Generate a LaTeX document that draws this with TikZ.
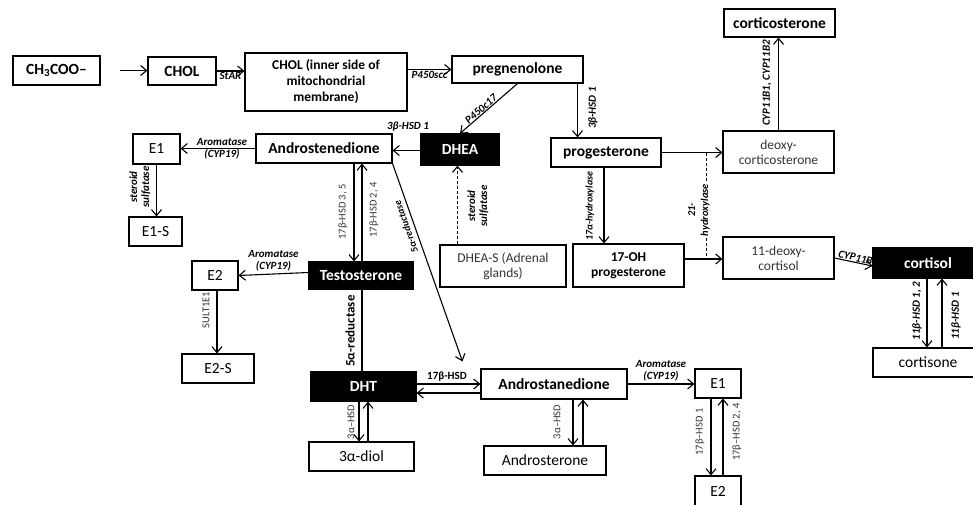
\documentclass[tikz,border=0pt]{standalone}
\usepackage{fontspec}
\setmainfont{Carlito}
\usetikzlibrary{arrows.meta,calc}
\pgfdeclarelayer{background}
\pgfsetlayers{background,main}
\begin{document}
\begin{tikzpicture}[x=1pt,y=-1pt,
  box/.style={draw, line width=1.1pt, inner sep=0pt, align=center, font=\fontsize{15.5}{17}\selectfont\bfseries},
  sz/.style 2 args={minimum width=#1pt, minimum height=#2pt},
  blk/.style={box, fill=black, text=white},
  reg/.style={box, font=\fontsize{15.5}{17}\selectfont},
  mid/.style={box, font=\fontsize{13.5}{15}\selectfont, text=black!80},
  midb/.style={box, font=\fontsize{13.5}{15}\selectfont\bfseries},
  lab/.style={font=\fontsize{11}{12}\selectfont\bfseries\itshape, inner sep=1pt, align=center},
  rlab/.style={font=\fontsize{10.5}{12}\selectfont, text=black!80, inner sep=1pt},
  arr/.style={line width=1.1pt, -{Straight Barb[length=6pt,width=10pt]}},
  ln/.style={line width=1.1pt}]
\useasboundingbox (0,0) rectangle (973,504);

% ---- nodes ----
\node[box, sz={87}{29}] (ch3) at (56.5,70.5) {CH\textsubscript{3}COO–};
\node[box, sz={68}{28}] (chol) at (182,71) {CHOL};
\node[box, sz={162}{58}, font=\fontsize{13.5}{16}\selectfont\bfseries] (cholin) at (326,82) {CHOL (inner side of\\mitochondrial\\membrane)};
\node[box, sz={131}{27}] (preg) at (517.5,69.5) {pregnenolone};
\node[box, sz={111}{28}] (cort) at (779.5,23) {corticosterone};
\node[mid, sz={111}{42}] (doc) at (778.5,152) {deoxy-\\corticosterone};
\node[box, sz={110}{29}] (prog) at (606,152.5) {progesterone};
\node[midb, sz={111}{43}] (ohp) at (628.5,265.5) {17-OH\\progesterone};
\node[mid, sz={111}{42}] (dcort) at (778.5,258) {11-deoxy-\\cortisol};
\node[blk, sz={110}{30}] (cortisol) at (928,263) {cortisol};
\node[reg, sz={110}{29}] (cortisone) at (928,362.5) {cortisone};
\node[box, sz={136}{29}] (andro) at (324,148.5) {Androstenedione};
\node[reg, sz={47}{30}] (e1a) at (156.5,149) {E1};
\node[reg, sz={53}{29}] (e1s) at (155.5,231.5) {E1-S};
\node[blk, sz={78}{31}] (dhea) at (460,149.5) {DHEA};
\node[mid, sz={126}{42}] (dheas) at (503,266) {DHEA-S (Adrenal\\glands)};
\node[blk, sz={104}{27}] (testo) at (361,275.5) {Testosterone};
\node[reg, sz={46}{29}] (e2a) at (215,275.5) {E2};
\node[reg, sz={72}{29}] (e2s) at (218,368.5) {E2-S};
\node[blk, sz={105}{29}] (dht) at (363.5,386.5) {DHT};
\node[box, sz={146}{30}] (adione) at (554,384) {Androstanedione};
\node[reg, sz={105}{29}] (diol) at (361.5,456.5) {3α-diol};
\node[reg, sz={122}{29}] (aster) at (545,460.5) {Androsterone};
\node[reg, sz={46}{29}] (e1b) at (718,383.5) {E1};
\node[reg, sz={46}{30}] (e2b) at (718,491) {E2};

% ---- top chain ----
\draw[arr, shorten <=19pt] (ch3.east) -- (ch3.east -| chol.west);
\draw[arr] (chol.east) -- (chol.east -| cholin.west)
  node[lab, below, midway] {StAR};
\draw[arr] (cholin.east |- preg.west) -- (preg.west)
  node[lab, below, midway] {P450scc};
\draw[arr] (preg.south) -- (dhea.north)
  node[lab, sloped, above, pos=0.58, inner sep=0.5pt] {P450c17};
\draw[arr] ([xshift=-6pt]preg.south east) -- ([xshift=-6pt]preg.south east |- prog.north);
\node[lab, rotate=90] at (593,108) {3β-HSD 1};

% ---- corticoid branch ----
\draw[arr] (prog.east) -- (prog.east -| doc.west);
\draw[arr] (doc.north) -- (doc.north |- cort.south);
\node[lab, rotate=90] at (767,83) {CYP11B1, CYP11B2};
\draw[arr] ([xshift=-2pt]prog.south) -- ([xshift=-2pt]prog.south |- ohp.north);
\node[lab, rotate=90, font=\fontsize{10}{12}\selectfont\bfseries\itshape] at (590,206) {17α-hydroxylase};
\draw[arr] ([yshift=6.5pt]ohp.east) -- ([yshift=6.5pt]ohp.east -| dcort.west);
\coordinate (h1) at (706,153);
\coordinate (h2) at (706,259);
\draw[ln, dashed, line width=0.9pt, dash pattern=on 3pt off 2pt] (h1) -- (h2);
\node[lab, rotate=90, fill=white, inner sep=0.5pt, font=\fontsize{10.5}{13}\selectfont\bfseries\itshape] at (699,210) {21-\\hydroxylase};
\begin{pgfonlayer}{background}
\draw[arr] (dcort.east) -- ([yshift=-3pt]cortisol.west)
  node[lab, sloped, above, pos=0.6, inner sep=0.5pt] {CYP11B1};
\end{pgfonlayer}
\draw[arr] ([xshift=-1pt]cortisol.south) -- ([xshift=-1pt]cortisol.south |- cortisone.north);
\draw[arr] ([xshift=14pt]cortisone.north) -- ([xshift=14pt]cortisone.north |- cortisol.south);
\node[lab, rotate=90] at (917,311) {11β-HSD 1, 2};
\node[lab, rotate=90] at (956,316) {11β-HSD 1};

% ---- androgen branch ----
\draw[arr] ([yshift=-1pt]dhea.west) -- ([yshift=-1pt]dhea.west -| andro.east);
\node[lab] at (408,127) {3β-HSD 1};
\draw[arr, dashed, dash pattern=on 3pt off 2pt] ([xshift=18pt]dheas.north west) -- ([xshift=18pt]dheas.north west |- dhea.south);
\node[lab, rotate=90] at (478,206) {steroid\\sulfatase};
\draw[arr] (andro.west) -- (andro.west -| e1a.east);
\node[lab] at (222,149) {Aromatase\\(CYP19)};
\draw[arr] (e1a.south) -- (e1a.south |- e1s.north);
\node[lab, rotate=90] at (140,187) {steroid\\sulfatase};
\draw[arr] ([xshift=-7pt]testo.north |- andro.south) -- ([xshift=-7pt]testo.north);
\draw[arr] ([xshift=1pt]testo.north) -- ([xshift=1pt]testo.north |- andro.south);
\node[rlab, rotate=90] at (343,212) {17β-HSD 3, 5};
\node[rlab, rotate=90] at (374,210) {17β-HSD 2, 4};
\draw[arr] (andro.south east) -- ([shift={(-18pt,7pt)}]adione.north west);
\node[lab, rotate=109.4, font=\fontsize{10}{12}\selectfont\bfseries\itshape] at (406,227) {5α-reductase};
\draw[arr] ([yshift=3pt]testo.west) -- (e2a.east)
  node[lab, above, midway, yshift=1pt] {Aromatase\\(CYP19)};
\draw[arr] ([xshift=2pt]e2a.south) -- ([xshift=2pt]e2a.south |- e2s.north);
\node[rlab, rotate=90] at (206,310) {SULT1E1};
\draw[ln] ([xshift=1pt]testo.south) -- ([xshift=1pt]testo.south |- dht.north);
\node[font=\fontsize{13}{15}\selectfont\bfseries, rotate=90, inner sep=1pt] at (350,331) {5α-reductase};
\draw[arr] ([yshift=2.5pt]dht.east) -- ([yshift=2.5pt]dht.east -| adione.west);
\draw[arr] ([yshift=-6.5pt]dht.east -| adione.west) -- ([yshift=-6.5pt]dht.east);
\node[font=\fontsize{11}{12}\selectfont\bfseries, inner sep=1pt] at (447,377) {17β-HSD};
\draw[arr] ([xshift=-4.5pt]dht.south) -- ([xshift=-4.5pt]dht.south |- diol.north);
\draw[arr] ([xshift=4.5pt]dht.south |- diol.north) -- ([xshift=4.5pt]dht.south);
\node[rlab, rotate=90] at (351,422) {3α–HSD};
\draw[arr] ([xshift=19pt]adione.south) -- ([xshift=19pt]adione.south |- aster.north);
\draw[arr] ([xshift=29pt]adione.south |- aster.north) -- ([xshift=29pt]adione.south);
\node[rlab, rotate=90] at (557,422) {3α–HSD};
\draw[arr] (adione.east) -- (adione.east -| e1b.west)
  node[lab, above, midway, yshift=1pt] {Aromatase\\(CYP19)};
\draw[arr] ([xshift=-7pt]e1b.south) -- ([xshift=-7pt]e1b.south |- e2b.north);
\draw[arr] ([xshift=5pt]e1b.south |- e2b.north) -- ([xshift=5pt]e1b.south);
\node[rlab, rotate=90] at (700,432) {17β–HSD 1};
\node[rlab, rotate=90] at (737,432) {17β–HSD 2, 4};
\end{tikzpicture}
\end{document}
